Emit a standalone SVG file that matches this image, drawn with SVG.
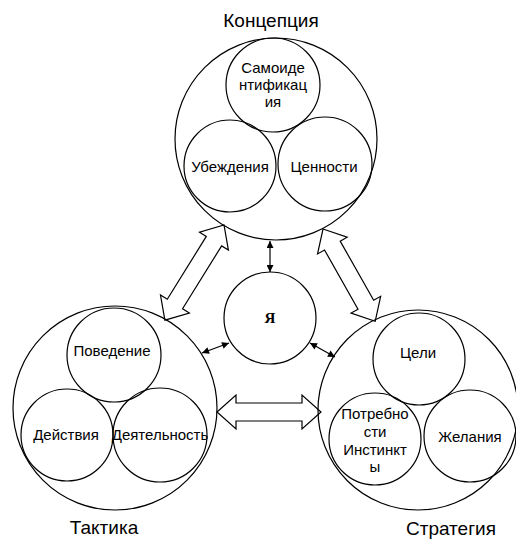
<svg xmlns="http://www.w3.org/2000/svg" width="516" height="539" viewBox="0 0 516 539">
<style>
.c{fill:none;stroke:#000;stroke-width:1.2}
.ba{fill:#fff;stroke:#000;stroke-width:1.2}
.ln{stroke:#000;stroke-width:1.2;fill:none}
text{font-family:"Liberation Sans",Arial,sans-serif;fill:#000;text-anchor:middle}
.t{font-size:19px}
.l{font-size:15px}
.ya{font-family:"Liberation Serif","Times New Roman",serif;font-weight:bold;font-size:15px}
</style>
<defs>
<marker id="ah" viewBox="0 0 10 10" refX="10" refY="5" markerWidth="9" markerHeight="7" markerUnits="userSpaceOnUse" orient="auto-start-reverse">
<path d="M0,0 L10,5 L0,10 Z" fill="#000"/>
</marker>
</defs>
<rect width="516" height="539" fill="#fff"/>
<g id="connectors">
<polygon class="ba" transform="translate(224,225) rotate(121.85)" points="0,0 19,-17 19,-9 93,-9 93,-17 112,0 93,17 93,9 19,9 19,17"/>
<polygon class="ba" transform="translate(323,229) rotate(60.5)" points="0,0 19,-17 19,-9 87,-9 87,-17 106,0 87,17 87,9 19,9 19,17"/>
<polygon class="ba" transform="translate(217,412)" points="0,0 19,-17 19,-9 85,-9 85,-17 104,0 85,17 85,9 19,9 19,17"/>
<line class="ln" x1="270" y1="241" x2="270" y2="272" marker-start="url(#ah)" marker-end="url(#ah)"/>
<line class="ln" x1="202" y1="353" x2="229" y2="343" marker-start="url(#ah)" marker-end="url(#ah)"/>
<line class="ln" x1="310" y1="343" x2="335" y2="357" marker-start="url(#ah)" marker-end="url(#ah)"/>
</g>
<g id="concept">
<circle class="c" cx="276" cy="139" r="101"/>
<text class="t" x="271" y="27">Концепция</text>
</g>
<g id="selfident">
<circle class="c" cx="273" cy="85" r="47"/>
<text class="l" x="273" y="73">Самоиде</text>
<text class="l" x="273" y="90">нтификац</text>
<text class="l" x="273" y="107">ия</text>
</g>
<g id="beliefs">
<circle class="c" cx="230" cy="166" r="46"/>
<text class="l" x="230" y="172">Убеждения</text>
</g>
<g id="values">
<circle class="c" cx="325" cy="164" r="47"/>
<text class="l" x="324" y="172">Ценности</text>
</g>
<g id="self">
<circle class="c" cx="270" cy="318" r="46"/>
<text class="ya" x="270" y="323">Я</text>
</g>
<g id="tactics">
<circle class="c" cx="115" cy="408" r="102"/>
<text class="t" x="104" y="534">Тактика</text>
</g>
<g id="behavior">
<circle class="c" cx="114" cy="355" r="47"/>
<text class="l" x="112" y="356">Поведение</text>
</g>
<g id="actions">
<circle class="c" cx="67" cy="435" r="46"/>
<text class="l" x="66" y="440">Действия</text>
</g>
<g id="activity">
<circle class="c" cx="160" cy="435" r="47"/>
<text class="l" x="160" y="440">Деятельность</text>
</g>
<g id="strategy">
<circle class="c" cx="418" cy="410" r="100"/>
<text class="t" x="451" y="535">Стратегия</text>
</g>
<g id="goals">
<circle class="c" cx="419" cy="359" r="46"/>
<text class="l" x="418" y="358">Цели</text>
</g>
<g id="needs">
<circle class="c" cx="375" cy="439" r="46"/>
<text class="l" x="375" y="419">Потребно</text>
<text class="l" x="375" y="437">сти</text>
<text class="l" x="375" y="455">Инстинкт</text>
<text class="l" x="375" y="472">ы</text>
</g>
<g id="desires">
<circle class="c" cx="470" cy="436" r="46"/>
<text class="l" x="470" y="442">Желания</text>
</g>
</svg>
